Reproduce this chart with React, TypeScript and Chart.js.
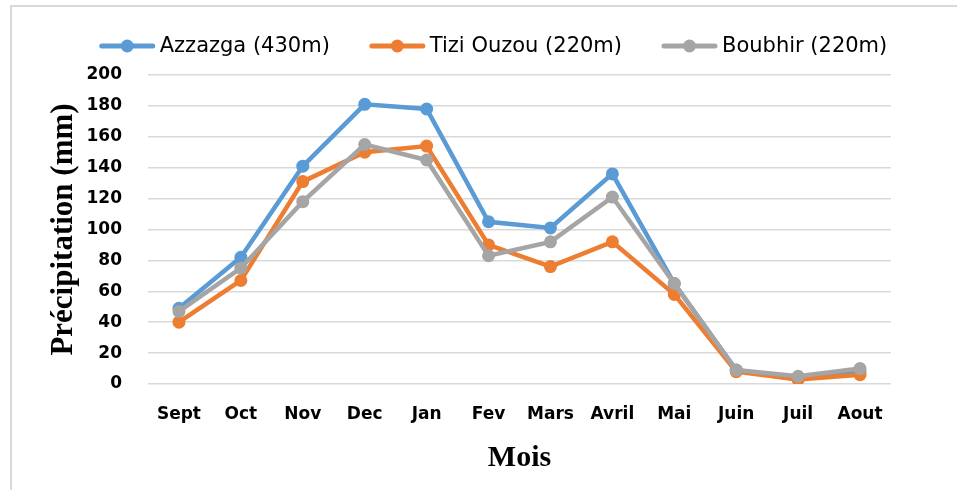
import React, { useEffect, useRef } from "react";
import { Chart, registerables } from "chart.js";

Chart.register(...registerables);

const months = ["Sept", "Oct", "Nov", "Dec", "Jan", "Fev", "Mars", "Avril", "Mai", "Juin", "Juil", "Aout"];
const azzazga = [49, 82, 141, 181, 178, 105, 101, 136, 65, 9, 3, 8];
const tiziOuzou = [40, 67, 131, 150, 154, 90, 76, 92, 58, 8, 3, 6];
const boubhir = [47, 75, 118, 155, 145, 83, 92, 121, 65, 9, 5, 10];
const seriesNames = ["Azzazga (430m)", "Tizi Ouzou (220m)", "Boubhir (220m)"];
const seriesColors = ["#5B9BD5", "#ED7D31", "#A5A5A5"];
const yTitle = "Précipitation (mm)";
const xTitle = "Mois";

const legendPlugin = {
  id: "customLegend",
  afterDraw(chart: any) {
    const ctx = chart.ctx;
    const datasets = chart.data.datasets;
    ctx.save();
    ctx.font = "21px 'DejaVu Sans'";
    const lineW = 55;
    const gapText = 5;
    const gapItem = 40;
    const widths = datasets.map((d: any) => ctx.measureText(d.label).width);
    const total = widths.reduce((a: number, w: number) => a + lineW + gapText + w, 0) + gapItem * (datasets.length - 1);
    let x = 493.5 - total / 2;
    const y = 46;
    datasets.forEach((d: any, i: number) => {
      ctx.strokeStyle = d.borderColor;
      ctx.lineWidth = 5;
      ctx.lineCap = "round";
      ctx.beginPath();
      ctx.moveTo(x + 2, y);
      ctx.lineTo(x + lineW - 2, y);
      ctx.stroke();
      ctx.fillStyle = d.borderColor;
      ctx.beginPath();
      ctx.arc(x + lineW / 2, y, 6.5, 0, Math.PI * 2);
      ctx.fill();
      ctx.fillStyle = "#000";
      ctx.textAlign = "left";
      ctx.textBaseline = "middle";
      ctx.fillText(d.label, x + lineW + gapText, y + 1);
      x += lineW + gapText + widths[i] + gapItem;
    });
    ctx.restore();
  },
};

export default function App() {
  const ref = useRef<HTMLCanvasElement | null>(null);
  useEffect(() => {
    if (!ref.current) return;
    const values = [azzazga, tiziOuzou, boubhir];
    const chart = new Chart(ref.current, {
      type: "line",
      data: {
        labels: months,
        datasets: values.map((v, i) => ({
          label: seriesNames[i],
          data: v,
          borderColor: seriesColors[i],
          backgroundColor: seriesColors[i],
          pointBackgroundColor: seriesColors[i],
          pointBorderWidth: 0,
          pointRadius: 6.5,
          borderWidth: 4.5,
          tension: 0,
          order: 3 - i,
        })),
      },
      options: {
        animation: false,
        responsive: false,
        layout: { padding: { top: 75, right: 66, left: 0, bottom: 0 } },
        plugins: {
          legend: { display: false },
          tooltip: { enabled: false },
        },
        scales: {
          x: {
            offset: true,
            grid: { display: false },
            border: { display: false },
            ticks: {
              color: "#000",
              font: { family: "'DejaVu Sans'", size: 17, weight: "bold" },
              padding: 12,
              maxRotation: 0,
              autoSkip: false,
            },
            title: {
              display: true,
              text: xTitle,
              color: "#000",
              font: { family: "'Liberation Serif'", size: 30, weight: "bold" },
              padding: { top: 0, bottom: 14 },
            },
            afterFit: (scale: any) => {
              scale.height = 106;
            },
          },
          y: {
            min: 0,
            max: 200,
            grid: { color: "#d9d9d9", lineWidth: 1.5, drawTicks: false },
            border: { display: false },
            ticks: {
              stepSize: 20,
              color: "#000",
              font: { family: "'DejaVu Sans'", size: 17, weight: "bold" },
              padding: 26,
            },
            title: {
              display: true,
              text: yTitle,
              color: "#000",
              font: { family: "'Liberation Serif'", size: 31, weight: "bold" },
              padding: { top: 45, bottom: 0 },
            },
            afterFit: (scale: any) => {
              scale.width = 148;
            },
          },
        },
      },
      plugins: [legendPlugin],
    });
    return () => chart.destroy();
  }, []);
  return (
    <div style={{ position: "fixed", left: 0, top: 0, width: 957, height: 490, background: "#fff" }}>
      <div
        style={{
          position: "absolute",
          left: 10,
          top: 5,
          right: -2,
          bottom: -2,
          borderLeft: "2px solid #d9d9d9",
          borderTop: "2px solid #d9d9d9",
        }}
      />
      <canvas ref={ref} width={957} height={490} style={{ position: "absolute", left: 0, top: 0, display: "block" }} />
    </div>
  );
}
